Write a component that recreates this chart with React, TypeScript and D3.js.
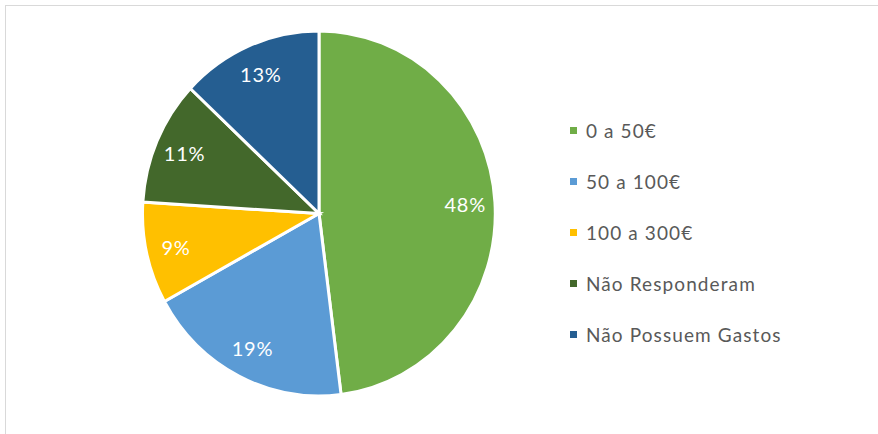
import React from "react";
import * as d3 from "d3";

const categories = ["0 a 50€", "50 a 100€", "100 a 300€", "Não Responderam", "Não Possuem Gastos"];
const values = [48, 19, 9, 11, 13];
const colors = ["#70AD47", "#5B9BD5", "#FFC000", "#43682B", "#255E91"];

const W = 878;
const H = 434;
const cx = 319;
const cy = 213.5;
const rx = 176.5;
const ry = 182.5;

export default function App() {
  const pie = d3.pie<number>().sort(null).value((d) => d);
  const arcs = pie(values);
  const arc = d3.arc<d3.PieArcDatum<number>>().innerRadius(0).outerRadius(1);
  const total = d3.sum(values);
  const legendY = d3.scaleBand<number>().domain(d3.range(categories.length)).range([105, 360]);
  const labelFactor = 0.83;

  return (
    <svg width={W} height={H} style={{ position: "absolute", left: 0, top: 0, background: "#fff" }}>
      <rect x={5.5} y={5.5} width={W + 20} height={H + 20} fill="#fff" stroke="#d9d9d9" strokeWidth={1} />
      <g transform={`translate(${cx},${cy})`}>
        {arcs.map((a, i) => (
          <path
            key={i}
            d={arc(a) as string}
            transform={`scale(${rx},${ry})`}
            fill={colors[i]}
            stroke="#fff"
            strokeWidth={3}
            vectorEffect="non-scaling-stroke"
          />
        ))}
        {arcs.map((a, i) => {
          const mid = (a.startAngle + a.endAngle) / 2;
          const x = Math.sin(mid) * rx * labelFactor;
          const y = -Math.cos(mid) * ry * labelFactor;
          return (
            <text
              key={i}
              x={x}
              y={y}
              textAnchor="middle"
              dominantBaseline="central"
              fill="#fff"
              fontFamily="Lato, 'Open Sans', sans-serif"
              fontSize={20}
              letterSpacing={0.8}
            >
              {`${Math.round((values[i] / total) * 100)}%`}
            </text>
          );
        })}
      </g>
      <g>
        {categories.map((c, i) => {
          const y = (legendY(i) as number) + legendY.bandwidth() / 2;
          return (
            <g key={c}>
              <rect x={570} y={y - 3.5} width={7} height={7} fill={colors[i]} />
              <text
                x={586}
                y={y}
                dominantBaseline="central"
                fill="#595959"
                fontFamily="Lato, 'Open Sans', sans-serif"
                fontSize={19}
                letterSpacing={1.1}
              >
                {c}
              </text>
            </g>
          );
        })}
      </g>
    </svg>
  );
}
